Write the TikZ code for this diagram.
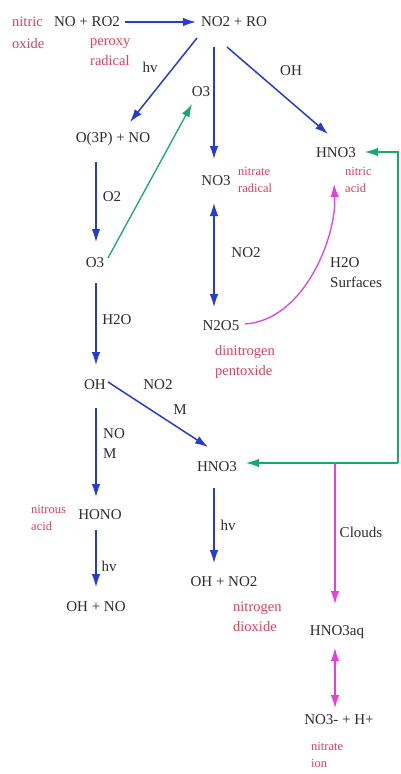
\documentclass[tikz,border=0pt]{standalone}
\usepackage{fontspec}
\setmainfont{Liberation Serif}
\usetikzlibrary{arrows.meta}
\definecolor{rxblue}{RGB}{38,58,212}
\definecolor{rxgreen}{RGB}{20,170,110}
\definecolor{rxmagenta}{RGB}{235,60,225}
\definecolor{namered}{RGB}{228,62,92}
\definecolor{ink}{RGB}{45,45,45}

\begin{document}
\begin{tikzpicture}[
    x=1pt, y=-1pt,
    every node/.style={inner sep=1pt},
    chem/.style={text=ink, font=\fontsize{15}{20}\selectfont, align=left},
    redname/.style={text=namered, font=\fontsize{14.5}{20}\selectfont, align=left, anchor=west, inner sep=0pt},
    sredname/.style={redname, font=\fontsize{12.5}{16.5}\selectfont},
    barrow/.style={-{Latex[length=13pt,width=8.5pt]}, draw=rxblue, line width=1.5pt},
    bthin/.style={barrow, line width=1.1pt},
    bdouble/.style={bthin, {Latex[length=13pt,width=8.5pt]}-{Latex[length=13pt,width=8.5pt]}},
    garrow/.style={-{Latex[length=13pt,width=8.5pt]}, draw=rxgreen, line width=1.3pt},
    marrow/.style={-{Latex[length=13pt,width=8.5pt]}, draw=rxmagenta, line width=1.3pt},
    mdouble/.style={marrow, {Latex[length=13pt,width=8.5pt]}-{Latex[length=13pt,width=8.5pt]}}
]
\path[use as bounding box, fill=white] (0,0) rectangle (400,774);

% species
\node[chem] (noro2) at (87,22) {NO + RO2};
\node[chem] (no2ro) at (234,22) {NO2 + RO};
\node[chem] (o3p) at (113,139) {O(3P) + NO};
\node[chem] (o3up) at (201,92) {O3};
\node[chem] (hno3top) at (336,153) {HNO3};
\node[chem] (no3) at (216,181) {NO3};
\node[chem] (o3) at (95,263) {O3};
\node[chem] (n2o5) at (221,326) {N2O5};
\node[chem] (oh) at (95,385) {OH};
\node[chem] (hno3mid) at (217,467) {HNO3};
\node[chem] (hono) at (100,515) {HONO};
\node[chem] (ohno) at (96,607) {OH + NO};
\node[chem] (ohno2) at (224,582) {OH + NO2};
\node[chem] (hno3aq) at (337,632) {HNO3aq};
\node[chem] (nition) at (339,720) {NO3- + H+};

% reagents on the arrows
\node[chem] (hva) at (150,67) {hv};
\node[chem] (ohr) at (291,71) {OH};
\node[chem] (o2r) at (112,197) {O2};
\node[chem] (no2r) at (246,253) {NO2};
\node[chem, anchor=west] (surf) at (329,273) {H2O\\Surfaces};
\node[chem] (h2or) at (117,320) {H2O};
\node[chem] (no2m) at (158,385) {NO2};
\node[chem] (mr) at (180,410) {M};
\node[chem, anchor=west] (nom) at (102,444) {NO\\M};
\node[chem] (hvb) at (109,566) {hv};
\node[chem] (hvc) at (228,525) {hv};
\node[chem] (clouds) at (361,532) {Clouds};

% names
\node[redname, font=\fontsize{14.5}{22}\selectfont] (nitox) at (12,33) {nitric\\oxide};
\node[redname] (perox) at (90,52) {peroxy\\radical};
\node[sredname] (nitrad) at (238,180) {nitrate\\radical};
\node[sredname] (nitacid) at (345,180) {nitric\\acid};
\node[redname] (dinit) at (215,362) {dinitrogen\\pentoxide};
\node[sredname] (nitrous) at (31,518) {nitrous\\acid};
\node[redname] (nitdiox) at (233,617) {nitrogen\\dioxide};
\node[sredname] (nitrate) at (311,755) {nitrate\\ion};

% blue reactions
\draw[barrow] ([shift={(38,0)}]noro2.center) -- ([shift={(-38,0)}]no2ro.center);
\draw[barrow] ([shift={(-37,16)}]no2ro.center) -- ([shift={(17,-17)}]o3p.center);
\draw[barrow] ([shift={(-7,25)}]no2ro.center) -- ([shift={(-8,-19)}]hno3top.center);
\draw[bthin] ([shift={(-20,25)}]no2ro.center) -- ([shift={(-2,-22)}]no3.center);
\draw[bthin] ([shift={(-17,23)}]o3p.center) -- ([shift={(1,-21)}]o3.center);
\draw[bdouble] ([shift={(-2,22)}]no3.center) -- ([shift={(-7,-19)}]n2o5.center);
\draw[bthin] ([shift={(1,20)}]o3.center) -- ([shift={(1,-20)}]oh.center);
\draw[barrow] ([shift={(13,-3)}]oh.center) -- ([shift={(-9,-20)}]hno3mid.center);
\draw[bthin] ([shift={(1,23)}]oh.center) -- ([shift={(-4,-18)}]hono.center);
\draw[bthin] ([shift={(-4,15)}]hono.center) -- ([shift={(0,-20)}]ohno.center);
\draw[bthin] ([shift={(-3,21)}]hno3mid.center) -- ([shift={(-10,-19)}]ohno2.center);

% green
\draw[garrow] ([shift={(13,-5)}]o3.center) -- ([shift={(-9,12)}]o3up.center);
\coordinate (gtop) at (398,152);
\coordinate (gbot) at (398,463);
\draw[garrow] (gbot) -- (gtop) -- ([shift={(29,-1)}]hno3top.center);
\draw[garrow] (gbot) -- ([shift={(29,-4)}]hno3mid.center);

% magenta
\draw[marrow] ([shift={(24,-2)}]n2o5.center) .. controls ([shift={(84,-6)}]n2o5.center) and ([shift={(1,82)}]hno3top.center) .. ([shift={(-2,31)}]hno3top.center);
\coordinate (cloudtop) at (335,463);
\draw[marrow] (cloudtop) -- ([shift={(-2,-28)}]hno3aq.center);
\draw[mdouble] ([shift={(-2,16)}]hno3aq.center) -- ([shift={(-4,-12)}]nition.center);

\end{tikzpicture}
\end{document}
